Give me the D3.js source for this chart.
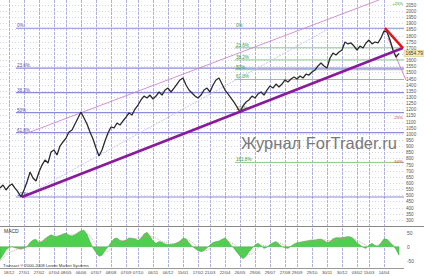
<!DOCTYPE html>
<html>
<head>
<meta charset="utf-8">
<script src="https://cdn.jsdelivr.net/npm/d3@7"></script>
<style>
  body { margin: 0; background: #fff; }
  svg { display: block; font-family: Arial, "Liberation Sans", sans-serif; }
</style>
</head>
<body>
<svg id="chart" width="424" height="276"></svg>
<script>
// closing prices, one per bar
const closes = [559,584,543,575,592,559,527,486,543,608,689,641,616,689,746,787,763,852,869,828,
  901,934,966,1015,1031,1080,1129,1178,1129,1080,1015,958,885,820,869,942,1007,1056,1048,1088,
  1072,1105,1137,1170,1154,1202,1235,1276,1308,1292,1316,1284,1308,1341,1316,1357,1373,1341,1373,1406,
  1439,1455,1398,1357,1333,1308,1292,1316,1357,1373,1341,1398,1439,1455,1406,1357,1325,1292,1259,1219,
  1178,1227,1259,1276,1308,1292,1325,1341,1316,1357,1390,1373,1406,1382,1406,1439,1422,1447,1463,1447,
  1471,1455,1487,1479,1504,1520,1553,1577,1553,1536,1618,1658,1642,1667,1683,1748,1732,1740,1715,1683,
  1715,1699,1740,1764,1732,1748,1740,1781,1838,1829,1764,1683,1626,1655];

// MACD histogram, one per bar
const macdHist = [-45,-30,-12,-3,0,-4,-6,-9,-5,0,15,24,26,14,18,28,36,42,38,36,
  40,45,48,40,38,42,50,56,58,44,18,-5,-20,-34,-30,-14,0,15,28,31,
  22,20,24,31,30,28,22,30,45,51,38,20,12,18,16,10,8,8,10,14,
  20,30,28,14,2,-6,-14,-18,-14,-4,6,15,18,20,26,31,20,5,-6,-20,
  -33,-42,-34,-18,-6,6,12,4,-6,-2,8,14,18,10,0,-4,-6,2,10,14,
  16,18,20,22,24,24,26,27,22,14,18,28,32,32,32,34,36,34,26,14,
  6,-2,-6,6,12,4,2,14,28,26,16,4,-10,-30];

// MACD signal, every third bar
const macdSignal = [-50,-20,-8,-4,14,22,36,40,42,50,40,-10,-18,18,22,28,36,36,18,10,
  14,24,-2,-14,12,24,10,-28,-26,6,0,14,0,8,18,22,24,20,30,34,18,-2,6,18,0];

const dateLabels = ["18/12","27/01","27/02","07/04","08/05","06/06","07/07","08/08","07/09","07/10",
  "06/11","06/12","15/01","17/02","21/03","22/04","26/05","29/06","29/07","27/08",
  "29/09","29/10","30/11","30/12","03/02","15/03","14/04"];
const dateBars = [3,8,13,18,22,27,32,37,42,46,51,56,61,66,70,75,80,85,90,95,99,104,109,114,119,123,128];

const priceTicks = [2050,2000,1950,1900,1850,1800,1750,1700,1650,1600,1550,1500,1450,1400,1350,1300,
  1250,1200,1150,1100,1050,1000,950,900,850,800,750,700,650,600,550,500,450,400,350,300];
const macdTicks = [50, 0, -50];

// fibonacci grids
const fibLevels = [0, 23.6, 38.2, 50, 61.8, 100];
const fibRange = [1860, 486];
const fib2Levels = [0, 23.6, 38.2, 50, 61.8, 100, 161.8];
const fib2Range = [1860, 1185];

// target markers on the right edge
const targetPrices = [2066, 1137, 779];
const targetLabels = ["+25%", "-25%", "-50%"];
const targetColors = ["#2a9a2a", "#d03030", "#d03030"];

// drawn lines as [bar, price] pairs
const trendMain = [[7.3, 486], [134.3, 1699]];
const channelTop = [[8.3, 999], [126.3, 2090]];
const redLine = [[128.3, 1862], [134.3, 1699]];
const pinkDrop = [[129.3, 1781], [135.3, 1439]];
const faintLine = [[9, 502], [110, 1862]];
const lastPrice = 1654.79;

const W = 424, plotR = 404;
const svg = d3.select('#chart');

const x = d3.scaleLinear().domain([0, 133]).range([0, 399]);
const y = d3.scaleLinear().domain([2090, 250]).range([0, 226]);
const y2 = d3.scaleLinear().domain([-75, 73]).range([268, 226]);

// grid
svg.append('g').selectAll('line').data(priceTicks).join('line')
  .attr('x1', 0).attr('x2', plotR)
  .attr('y1', d => Math.round(y(d)) + 0.5).attr('y2', d => Math.round(y(d)) + 0.5)
  .attr('stroke', '#d4d4ec').attr('stroke-dasharray', '1,2');

svg.append('g').selectAll('line').data(dateBars).join('line')
  .attr('x1', d => Math.round(x(d)) + 0.5).attr('x2', d => Math.round(x(d)) + 0.5)
  .attr('y1', 0).attr('y2', 268)
  .attr('stroke', '#b0b0e2').attr('stroke-dasharray', '3,1');

// fib levels
const fy = (r, l) => y(r[0] - (r[0] - r[1]) * l / 100);
svg.append('g').selectAll('line').data(fibLevels).join('line')
  .attr('x1', x(5.3)).attr('x2', plotR)
  .attr('y1', d => fy(fibRange, d)).attr('y2', d => fy(fibRange, d))
  .attr('stroke', '#8c8cd8').attr('stroke-width', 1.2);
svg.append('g').selectAll('text').data(fibLevels).join('text')
  .attr('x', x(5.3) + 1).attr('y', d => fy(fibRange, d) - 1)
  .attr('font-size', 4.6).attr('fill', '#5858a8')
  .text(d => d + '%');

svg.append('g').selectAll('line').data(fib2Levels.filter(d => d !== 0 && d !== 100)).join('line')
  .attr('x1', x(78.3)).attr('x2', plotR)
  .attr('y1', d => fy(fib2Range, d)).attr('y2', d => fy(fib2Range, d))
  .attr('stroke', '#8cc88c').attr('stroke-width', 1);
svg.append('g').selectAll('text').data(fib2Levels).join('text')
  .attr('x', x(78.3) + 1).attr('y', d => fy(fib2Range, d) - 1)
  .attr('font-size', 4.6).attr('fill', '#3a9a3a')
  .text(d => d + '%');

// thin helper lines
const seg = d3.line().x(d => x(d[0])).y(d => y(d[1]));
svg.append('path').attr('d', seg(faintLine)).attr('fill', 'none')
  .attr('stroke', '#c8c8ec').attr('stroke-dasharray', '2,1');
svg.append('path').attr('d', seg(channelTop)).attr('fill', 'none')
  .attr('stroke', '#cc88cc').attr('stroke-width', 0.9);
svg.append('path').attr('d', seg(pinkDrop)).attr('fill', 'none')
  .attr('stroke', '#e070c0').attr('stroke-width', 0.9);

// price
svg.append('path').datum(closes)
  .attr('fill', 'none').attr('stroke', '#2a2a2a').attr('stroke-width', 1.3)
  .attr('stroke-linejoin', 'bevel')
  .attr('d', d3.line().x((d, i) => x(i)).y(d => y(d)));

// trend lines
svg.append('path').attr('d', seg(trendMain)).attr('fill', 'none')
  .attr('stroke', '#8a1a9a').attr('stroke-width', 2.6);
svg.append('path').attr('d', seg(redLine)).attr('fill', 'none')
  .attr('stroke', '#ee1111').attr('stroke-width', 2.6);

// watermark
svg.append('text').attr('x', 241).attr('y', 149)
  .attr('font-size', 16.5).attr('fill', '#7a7a7a')
  .text('Журнал ForTrader.ru');

// target markers
svg.append('g').selectAll('text').data(targetPrices).join('text')
  .attr('x', 403).attr('y', d => y(d) + 2).attr('text-anchor', 'end')
  .attr('font-size', 4.2).attr('fill', (d, i) => targetColors[i])
  .text((d, i) => targetLabels[i]);

// price axis (the tick hidden under the last-price box is skipped)
svg.append('g').selectAll('text')
  .data(priceTicks.filter(d => Math.abs(y(d) - y(lastPrice)) > 4)).join('text')
  .attr('x', 406).attr('y', d => y(d) + 2)
  .attr('font-size', 4.6).attr('fill', '#555')
  .text(d => d);
const lp = svg.append('g').attr('transform', `translate(404,${y(lastPrice)})`);
lp.append('rect').attr('x', 0).attr('y', -3).attr('width', 20).attr('height', 6)
  .attr('fill', '#f4f0b0').attr('stroke', '#c8c080').attr('stroke-width', 0.5);
lp.append('text').attr('x', 1.5).attr('y', 2).attr('font-size', 4.8).attr('fill', '#333')
  .text(lastPrice.toFixed(2));

// MACD panel
svg.append('line').attr('x1', 0).attr('x2', W).attr('y1', 226.5).attr('y2', 226.5)
  .attr('stroke', '#888');
svg.append('path').datum(macdHist)
  .attr('fill', '#4fcf4f').attr('stroke', '#2fa02f').attr('stroke-width', 0.4)
  .attr('d', d3.area().x((d, i) => x(i)).y0(y2(0)).y1(d => y2(d)));
svg.append('path').datum(macdSignal)
  .attr('fill', 'none').attr('stroke', '#c89898').attr('stroke-width', 0.8)
  .attr('stroke-dasharray', '1,1')
  .attr('d', d3.line().x((d, i) => x(i * 3)).y(d => y2(d)));
svg.append('text').attr('x', 4).attr('y', 233).attr('font-size', 5).attr('fill', '#333').text('MACD');
svg.append('g').selectAll('text').data(macdTicks).join('text')
  .attr('x', 407).attr('y', d => y2(d) + 2)
  .attr('font-size', 4.8).attr('fill', '#555')
  .text(d => d);
svg.append('text').attr('x', 3).attr('y', 267).attr('font-size', 4.2).attr('fill', '#333')
  .text('Transact \u00ae 2000-2008 Lorem Market Systems');

// date axis
svg.append('line').attr('x1', 0).attr('x2', plotR).attr('y1', 268.5).attr('y2', 268.5)
  .attr('stroke', '#999');
svg.append('g').selectAll('text').data(dateBars).join('text')
  .attr('x', d => x(d)).attr('y', 274)
  .attr('text-anchor', 'middle').attr('font-size', 4.2).attr('fill', '#444')
  .text((d, i) => dateLabels[i]);
</script>
</body>
</html>
